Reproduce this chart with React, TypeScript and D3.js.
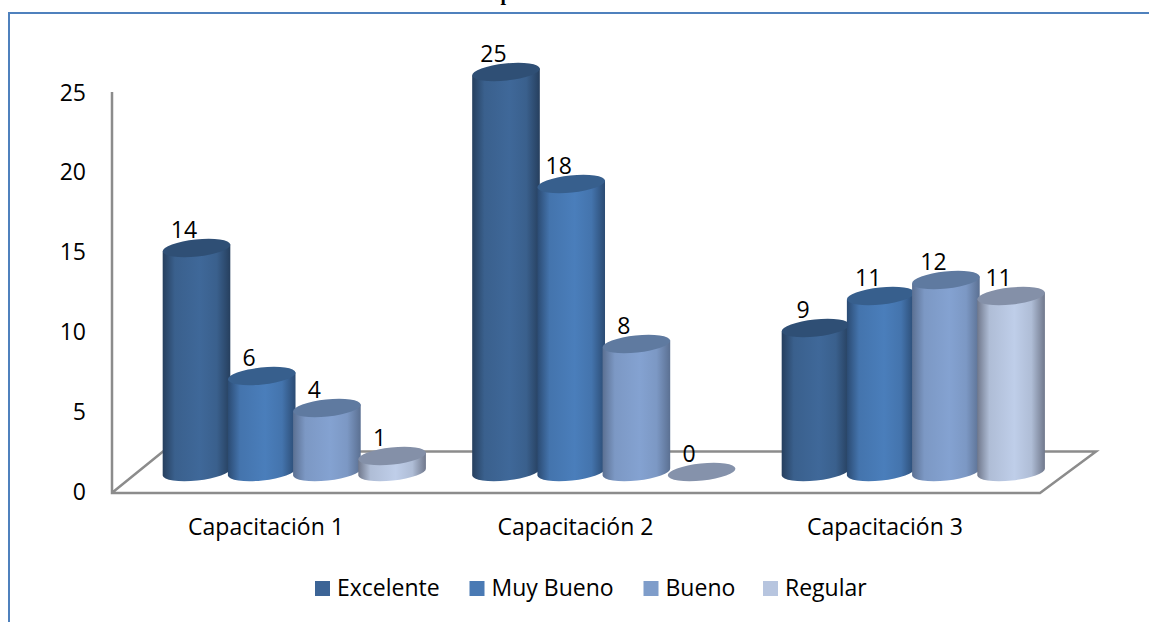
import React from "react";
import * as d3 from "d3";

const categories = ["Capacitación 1", "Capacitación 2", "Capacitación 3"];
const seriesNames = ["Excelente", "Muy Bueno", "Bueno", "Regular"];
const excelente = [14, 25, 9];
const muyBueno = [6, 18, 11];
const bueno = [4, 8, 12];
const regular = [1, 0, 11];
const allSeries = [excelente, muyBueno, bueno, regular];
const yTicks = [0, 5, 10, 15, 20, 25];
const colors = [
  { edge: "#263f5e", mid: "#3f6899", top: "#2f4f75", key: "#3c6496" },
  { edge: "#2b4b73", mid: "#4a7ebb", top: "#375f8d", key: "#4a7ab4" },
  { edge: "#5b7092", mid: "#84a2d1", top: "#5f7aa0", key: "#7f9dca" },
  { edge: "#70788c", mid: "#bfcee9", top: "#8490a8", key: "#b7c5df" },
];
const legendX = [315, 469.5, 643.5, 763];

const FONT = "'Open Sans', 'Noto Sans', sans-serif";
const yAxis = d3.scaleLinear().domain([0, 25]).range([491, 92]);
const yBar = d3.scaleLinear().domain([0, 25]).range([472, 72]);
const xGroup = d3.scalePoint<string>().domain(categories).range([196, 815]);
const step = 65.2;
const rx = 34;
const ry = 8.5;
const tilt = -6;

export default function App() {
  return (
    <svg
      width={1149}
      height={622}
      style={{ position: "absolute", left: 0, top: 0, background: "#fff" }}
      fontFamily={FONT}
    >
      <defs>
        {colors.map((c, i) => (
          <linearGradient key={i} id={`g${i}`} x1="0" x2="1" y1="0" y2="0">
            <stop offset="0" stopColor={c.edge} />
            <stop offset="0.18" stopColor={d3.interpolateRgb(c.edge, c.mid)(0.8)} />
            <stop offset="0.55" stopColor={c.mid} />
            <stop offset="0.8" stopColor={d3.interpolateRgb(c.edge, c.mid)(0.8)} />
            <stop offset="1" stopColor={c.edge} />
          </linearGradient>
        ))}
      </defs>
      <text x={506} y={0} fontFamily="'Liberation Serif', serif" fontWeight="bold" fontSize={20} textAnchor="middle">p</text>
      <path d="M9,622V13H1149" fill="none" stroke="#4f81bd" strokeWidth={2} />

      <path
        d={`M112,${yAxis(25)}V493H1040L1096,451.5H163L113,492`}
        fill="none"
        stroke="#8c8c8c"
        strokeWidth={2.5}
      />

      <g fontSize={23} fill="#000" textAnchor="end">
        {yTicks.map((t) => (
          <text key={t} x={86} y={yAxis(t) + 8.5}>{t}</text>
        ))}
      </g>

      {categories.map((cat, gi) =>
        allSeries.map((vals, si) => {
          const v = vals[gi];
          const cx = xGroup(cat)! + si * step + 0.5;
          const yt = yBar(v);
          const yb = yBar(0);
          const a = (tilt * Math.PI) / 180;
          const dx = rx * Math.cos(a);
          const dy = rx * Math.sin(a);
          const body = `M${cx - dx},${yb - dy}A${rx},${ry} ${tilt} 0 0 ${cx + dx},${yb + dy}L${cx + dx},${yt + dy}L${cx - dx},${yt - dy}Z`;
          return (
            <g key={si}>
              {v > 0 && <path d={body} fill={`url(#g${si})`} />}
              <ellipse
                cx={cx}
                cy={yt}
                rx={rx}
                ry={ry}
                transform={`rotate(${tilt} ${cx} ${yt})`}
                fill={v > 0 ? colors[si].top : "#8592ab"}
              />
            </g>
          );
        })
      )}

      <g fontSize={23} fill="#000" textAnchor="middle">
        {categories.map((cat, gi) =>
          allSeries.map((vals, si) => (
            <text key={si} x={xGroup(cat)! + si * step - 12} y={yBar(vals[gi]) - 10.5}>
              {vals[gi]}
            </text>
          ))
        )}
      </g>

      <g fontSize={23} fill="#000" textAnchor="middle">
        {categories.map((c) => (
          <text key={c} x={xGroup(c)! + 70} y={535}>{c}</text>
        ))}
      </g>

      <g fontSize={23} fill="#000">
        {seriesNames.map((s, i) => (
          <g key={s}>
            <rect x={legendX[i]} y={581} width={15} height={15} fill={colors[i].key} />
            <text x={legendX[i] + 22} y={596}>{s}</text>
          </g>
        ))}
      </g>
    </svg>
  );
}
